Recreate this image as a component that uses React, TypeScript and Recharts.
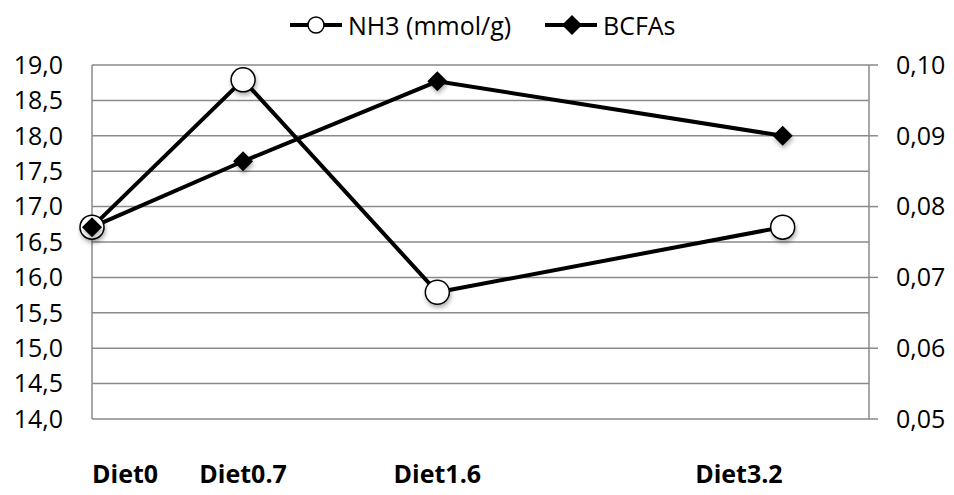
import React from "react";
import { LineChart, Line, XAxis, YAxis, CartesianGrid } from "recharts";

// diet levels (x positions) and their labels
const diets = [0, 0.7, 1.6, 3.2];
const dietLabels = ["Diet0", "Diet0.7", "Diet1.6", "Diet3.2"];

// series values
const nh3 = [16.71, 18.79, 15.79, 16.71];
const bcfas = [0.0771, 0.0864, 0.0977, 0.09];

const nh3Ticks = [14, 14.5, 15, 15.5, 16, 16.5, 17, 17.5, 18, 18.5, 19];
const bcfaTicks = [0.05, 0.06, 0.07, 0.08, 0.09, 0.1];

const seriesNames = ["NH3 (mmol/g)", "BCFAs"];

const FONT = "'Open Sans', 'Noto Sans', sans-serif";
const FS = 25;
const GRID = "#8a8a8a";

const data = diets.map((d, i) => ({ diet: d, nh3: nh3[i], bcfas: bcfas[i] }));

const Shadow = ({ id }: { id: string }) => (
  <defs>
    <filter id={id} x="-50%" y="-50%" width="200%" height="200%">
      <feDropShadow dx="1" dy="3" stdDeviation="2" floodColor="#000" floodOpacity="0.3" />
    </filter>
  </defs>
);

const Circle = (props: any) => {
  const { cx, cy, index } = props;
  if (cx == null || cy == null) return null;
  const id = `sh-c-${index}`;
  return (
    <g>
      <Shadow id={id} />
      <circle cx={cx} cy={cy} r={12} fill="#fff" stroke="#000" strokeWidth={1.5} filter={`url(#${id})`} />
    </g>
  );
};

const Diamond = (props: any) => {
  const { cx, cy, index } = props;
  if (cx == null || cy == null) return null;
  const s = 10;
  const id = `sh-d-${index}`;
  return (
    <g>
      <Shadow id={id} />
      <path
        d={`M${cx},${cy - s}L${cx + s},${cy}L${cx},${cy + s}L${cx - s},${cy}Z`}
        fill="#000"
        filter={`url(#${id})`}
      />
    </g>
  );
};

const DietTick = (props: any) => {
  const { x, y, index } = props;
  const anchor = index === 0 ? "start" : index === diets.length - 1 ? "end" : "middle";
  return (
    <text x={x} y={y} dy={64} textAnchor={anchor} fontFamily={FONT} fontSize={FS} fontWeight="bold" fill="#000">
      {dietLabels[index]}
    </text>
  );
};

const comma = (v: number, digits: number) => v.toFixed(digits).replace(".", ",");

const legendItem: React.CSSProperties = {
  position: "absolute",
  top: 8,
  display: "flex",
  alignItems: "center",
  fontFamily: FONT,
  fontSize: FS,
  color: "#000",
  whiteSpace: "nowrap",
};

const LegendBar = () => (
  <>
    <div style={{ ...legendItem, left: 290 }}>
      <svg width={54} height={32}>
        <line x1={0} y1={16} x2={52} y2={16} stroke="#000" strokeWidth={4} />
        <circle cx={26} cy={16} r={8} fill="#fff" stroke="#000" strokeWidth={1.5} />
      </svg>
      <span style={{ marginLeft: 4 }}>{seriesNames[0]}</span>
    </div>
    <div style={{ ...legendItem, left: 545 }}>
      <svg width={54} height={32}>
        <line x1={0} y1={16} x2={52} y2={16} stroke="#000" strokeWidth={4} />
        <path d="M27,6L37,16L27,26L17,16Z" fill="#000" />
      </svg>
      <span style={{ marginLeft: 4 }}>{seriesNames[1]}</span>
    </div>
  </>
);

export default function App() {
  return (
    <div style={{ position: "relative", width: 954, height: 495, margin: -8, background: "#fff" }}>
      <LegendBar />
      <LineChart width={954} height={495} data={data} margin={{ top: 65, right: 0, bottom: 0, left: 0 }}>
        <CartesianGrid yAxisId="left" vertical={false} stroke={GRID} strokeWidth={1.5} />
        <XAxis
          dataKey="diet"
          type="number"
          domain={[0, 3.6]}
          ticks={diets}
          axisLine={false}
          tickLine={false}
          height={76}
          tickSize={0}
          tickMargin={0}
          interval={0}
          tick={<DietTick />}
        />
        <YAxis
          yAxisId="left"
          orientation="left"
          domain={[14, 19]}
          ticks={nh3Ticks}
          width={92}
          axisLine={{ stroke: GRID, strokeWidth: 1.5 }}
          tickLine={false}
          tickSize={0}
          tickMargin={29}
          interval={0}
          tickFormatter={(v: number) => comma(v, 1)}
          tick={{ fontFamily: FONT, fontSize: FS, fill: "#000" }}
        />
        <YAxis
          yAxisId="right"
          orientation="right"
          domain={[0.05, 0.1]}
          ticks={bcfaTicks}
          width={85}
          axisLine={{ stroke: GRID, strokeWidth: 1.5 }}
          tickLine={{ stroke: GRID, strokeWidth: 1.5 }}
          tickSize={9}
          tickMargin={18}
          interval={0}
          tickFormatter={(v: number) => comma(v, 2)}
          tick={{ fontFamily: FONT, fontSize: FS, fill: "#000" }}
        />
        <Line
          yAxisId="left"
          dataKey="nh3"
          name={seriesNames[0]}
          stroke="#000"
          strokeWidth={4}
          dot={<Circle />}
          activeDot={false}
          isAnimationActive={false}
        />
        <Line
          yAxisId="right"
          dataKey="bcfas"
          name={seriesNames[1]}
          stroke="#000"
          strokeWidth={4}
          dot={<Diamond />}
          activeDot={false}
          isAnimationActive={false}
        />
      </LineChart>
    </div>
  );
}
